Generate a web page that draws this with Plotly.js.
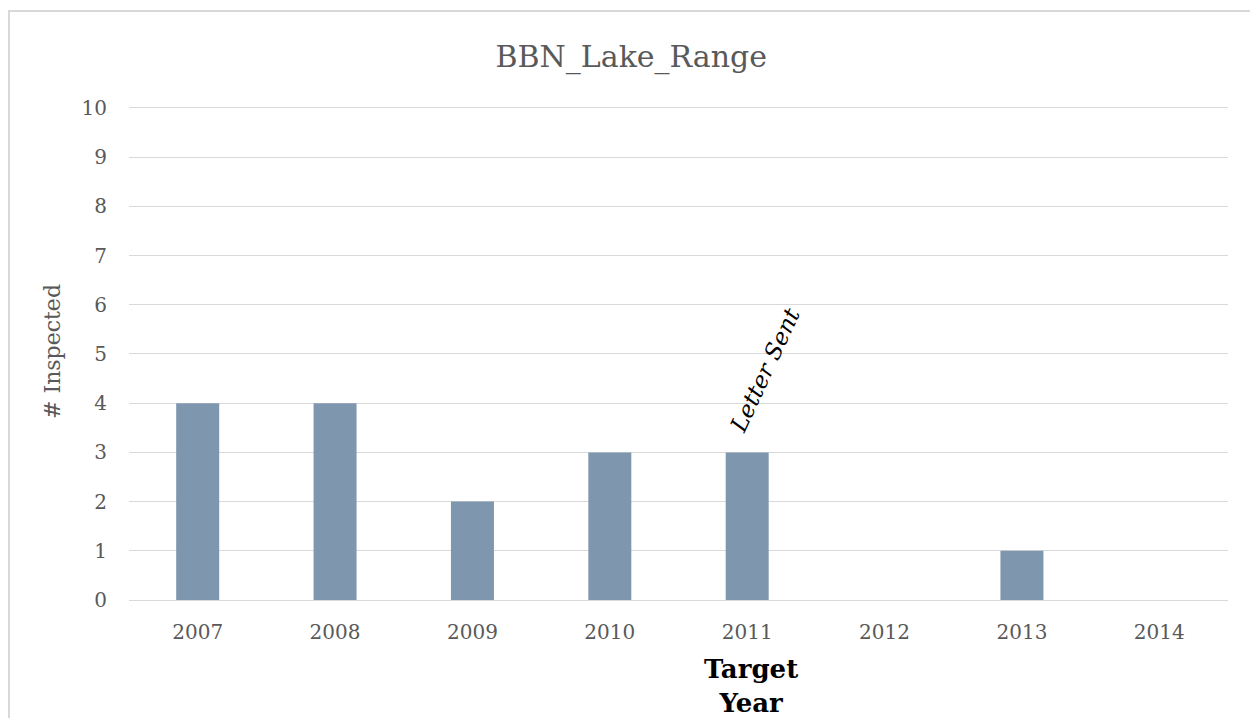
<!DOCTYPE html>
<html>
<head>
<meta charset="utf-8">
<script src="https://cdn.plot.ly/plotly-3.0.1.min.js"></script>
<style>
  body { margin: 0; background: #fff; }
  #chart { width: 1250px; height: 718px; position: absolute; left: 0; top: 0; }
  #frame { position: absolute; left: 8px; top: 10px; width: 1260px; height: 730px;
           border: 2px solid #d9d9d9; box-sizing: border-box; pointer-events: none; }
</style>
</head>
<body>
<div id="chart"></div>
<div id="frame"></div>
<script>
const years = [2007, 2008, 2009, 2010, 2011, 2012, 2013, 2014];
const yearLabels = ['2007', '2008', '2009', '2010', '2011', '2012', '2013', '2014'];
const inspected = [4, 4, 2, 3, 3, 0, 1, 0];

const serif = 'DejaVu Serif, Liberation Serif, serif';

const data = [{
    x: years,
    y: inspected,
    type: 'bar',
    width: 0.313,
    marker: {color: '#7f97ae'},
    hoverinfo: 'x+y'
}];

const layout = {
    width: 1250,
    height: 718,
    // y range runs a little past 10 so the top gridline is drawn
    margin: {l: 129, r: 22, t: 103, b: 118},
    paper_bgcolor: 'rgba(0,0,0,0)',
    plot_bgcolor: '#fff',
    showlegend: false,
    title: {
        text: 'BBN_Lake_Range',
        font: {family: serif, size: 30, color: '#595959'},
        x: 0.505, xanchor: 'center',
        y: 0.922, yanchor: 'middle'
    },
    xaxis: {
        range: [2006.5, 2014.5],
        tickmode: 'array',
        tickvals: years,
        ticktext: yearLabels,
        tickfont: {family: serif, size: 20, color: '#595959'},
        showgrid: false,
        showline: true,
        linecolor: '#d9d9d9',
        linewidth: 1,
        zeroline: false,
        ticks: '',
        ticklabelstandoff: 14
    },
    yaxis: {
        range: [0, 10.1],
        tickvals: [0, 1, 2, 3, 4, 5, 6, 7, 8, 9, 10],
        tickfont: {family: serif, size: 20, color: '#595959'},
        gridcolor: '#d9d9d9',
        gridwidth: 1,
        zeroline: false,
        ticks: '',
        ticklabelstandoff: 21,
        title: {
            text: '# Inspected',
            font: {family: serif, size: 22, color: '#595959'},
            standoff: 14
        }
    },
    annotations: [{
        x: 2011,
        y: 4.67,
        xref: 'x',
        yref: 'y',
        text: '<i>Letter Sent</i>',
        showarrow: false,
        textangle: -65,
        xanchor: 'center',
        yanchor: 'middle',
        xshift: 18,
        font: {family: serif, size: 23, color: '#000'}
    }, {
        // x-axis title sits off-centre in the original
        x: 0.566,
        y: 0,
        xref: 'paper',
        yref: 'paper',
        text: '<b>Target<br>Year</b>',
        showarrow: false,
        xanchor: 'center',
        yanchor: 'top',
        yshift: -52,
        font: {family: serif, size: 26, color: '#000'}
    }]
};

Plotly.newPlot('chart', data, layout, {staticPlot: true});
</script>
</body>
</html>
